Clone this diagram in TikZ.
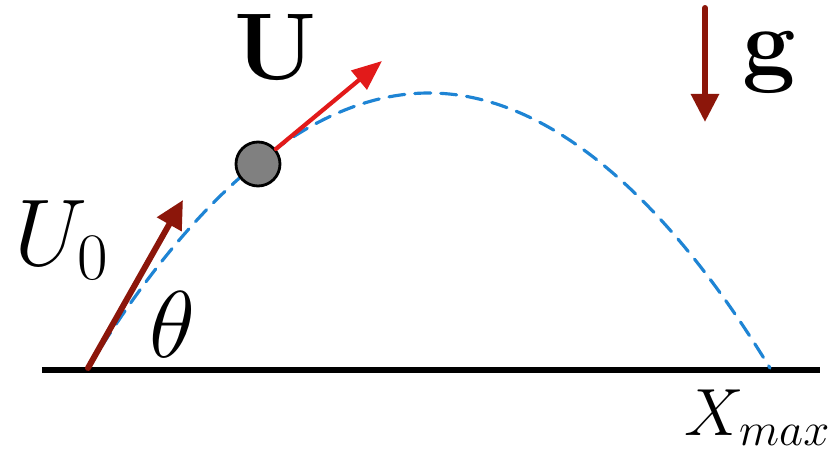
\documentclass[tikz,border=0pt]{standalone}
\usepackage{fix-cm}
\usetikzlibrary{arrows.meta}

\definecolor{darkred}{RGB}{140,22,10}
\definecolor{brightred}{RGB}{226,26,26}
\definecolor{pathblue}{RGB}{30,132,212}

\tikzset{
  vec/.style={line width=1.7pt, darkred, -{Triangle[length=2.8mm, width=2.7mm]}},
  vel/.style={line width=1.2pt, brightred, -{Triangle[length=3mm, width=2.4mm]}},
  lbl/.style={inner sep=0pt, font=\fontsize{27}{30}\selectfont},
  smalllbl/.style={inner sep=0pt, font=\fontsize{19}{22}\selectfont},
}

\begin{document}
\begin{tikzpicture}[x=0.1mm, y=-0.1mm, line cap=round]

  % frame: 838 x 450 px, y runs downward
  \useasboundingbox (0,0) rectangle (838,450);

  % launch, apex, landing
  \coordinate (O)    at (88,  368);
  \coordinate (top)  at (429,  93);
  \coordinate (land) at (770, 368);

  % ground
  \draw[line width=1.7pt, line cap=butt] (42,370) -- (820,370);

  % trajectory
  \draw[pathblue, line width=0.9pt, dash pattern=on 1.6mm off 1mm]
    (O) parabola bend (top) (land);

  % initial velocity
  \coordinate (U0tip) at (183, 200);
  \draw[vec] (O) -- (U0tip);

  % ball + velocity along path
  \node[circle, draw=black, fill=gray, line width=0.8pt, minimum size=4.4mm,
        inner sep=0pt] (ball) at (258,164) {};
  \coordinate (Utip) at (382, 61);
  \draw[vel] (ball.40) -- (Utip);

  % gravity
  \coordinate (gtop) at (705,   8);
  \coordinate (gbot) at (705, 122);
  \draw[vec] (gtop) -- (gbot);

  % labels
  \node[lbl] (U)    at (276,  47) {$\mathbf{U}$};
  \node[lbl] (g)    at (770,  63) {$\mathbf{g}$};
  \node[lbl] (U0)   at (62,  240) {$U_0$};
  \node[lbl] (th)   at (172, 325) {$\theta$};
  \node[smalllbl] (xmax) at (758, 418) {$X_{max}$};

\end{tikzpicture}
\end{document}
